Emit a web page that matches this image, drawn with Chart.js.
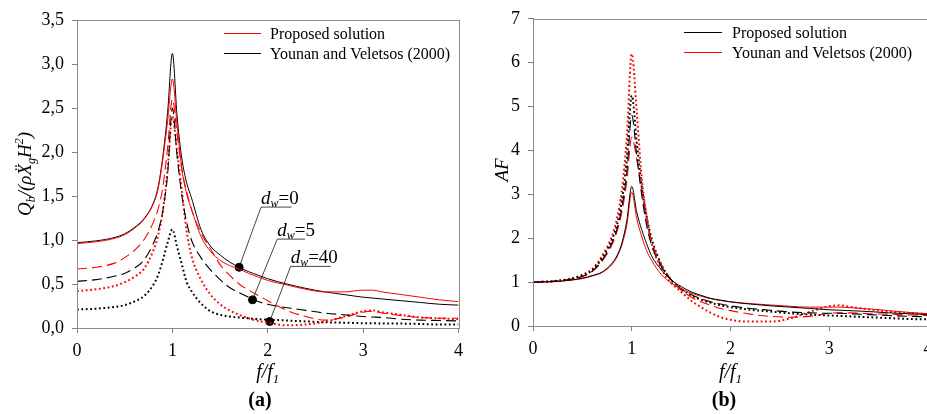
<!DOCTYPE html>
<html>
<head>
<meta charset="utf-8">
<script src="https://cdn.jsdelivr.net/npm/chart.js@4"></script>
<style>
  html, body { margin: 0; padding: 0; background: #fff; overflow: hidden; width: 927px; height: 414px; }
  canvas { position: absolute; top: 0; }
</style>
</head>
<body>
<canvas id="chartA" width="470" height="414" style="left:0"></canvas>
<canvas id="chartB" width="480" height="414" style="left:460px"></canvas>
<script>
// frequency ratio f/f1 (shared grid of both panels)
const freq = [0, 0.2, 0.4, 0.5, 0.6, 0.7, 0.8, 0.85, 0.9, 0.95, 1.0, 1.05, 1.1, 1.15, 1.2, 1.3, 1.4, 1.5, 1.6, 1.7,
              1.8, 1.9, 2.0, 2.2, 2.4, 2.6, 2.8, 3.0, 3.1, 3.2, 3.4, 3.6, 3.8, 4.0];

// (a) base shear Qb/(rho Xg H^2)
const qbProposedDw0 = [0.96, 0.98, 1.02, 1.06, 1.13, 1.23, 1.41, 1.58, 1.92, 2.35, 2.83, 2.3, 1.8, 1.52, 1.35, 1.04, 0.87, 0.77, 0.71, 0.67,
                       0.62, 0.58, 0.54, 0.49, 0.44, 0.41, 0.41, 0.43, 0.43, 0.41, 0.38, 0.35, 0.32, 0.3];
const qbYounanDw0   = [0.97, 0.99, 1.03, 1.07, 1.14, 1.24, 1.42, 1.6, 1.95, 2.45, 3.12, 2.4, 1.92, 1.65, 1.48, 1.12, 0.93, 0.83, 0.75, 0.69,
                       0.64, 0.6, 0.56, 0.5, 0.45, 0.41, 0.38, 0.35, 0.34, 0.33, 0.31, 0.29, 0.27, 0.26];
const qbProposedDw5 = [0.67, 0.69, 0.74, 0.8, 0.88, 1.0, 1.2, 1.35, 1.6, 2.05, 2.6, 2.2, 1.8, 1.55, 1.35, 1.08, 0.9, 0.72, 0.6, 0.5,
                       0.43, 0.37, 0.31, 0.2, 0.13, 0.09, 0.12, 0.18, 0.19, 0.17, 0.14, 0.12, 0.11, 0.11];
const qbYounanDw5   = [0.53, 0.55, 0.59, 0.62, 0.68, 0.77, 0.96, 1.1, 1.33, 1.75, 2.5, 1.95, 1.5, 1.2, 1.0, 0.8, 0.66, 0.55, 0.46, 0.4,
                       0.35, 0.3, 0.27, 0.23, 0.2, 0.17, 0.15, 0.13, 0.125, 0.12, 0.1, 0.09, 0.085, 0.08];
const qbProposedDw40 = [0.42, 0.44, 0.48, 0.52, 0.58, 0.67, 0.88, 1.05, 1.33, 1.8, 2.4, 2.0, 1.55, 1.1, 0.82, 0.55, 0.38, 0.27, 0.2, 0.15,
                        0.11, 0.08, 0.06, 0.03, 0.04, 0.07, 0.13, 0.19, 0.2, 0.18, 0.15, 0.12, 0.11, 0.1];
const qbYounanDw40   = [0.21, 0.22, 0.24, 0.26, 0.3, 0.36, 0.49, 0.6, 0.77, 0.97, 1.12, 0.92, 0.72, 0.52, 0.42, 0.28, 0.19, 0.15, 0.13, 0.12,
                        0.11, 0.1, 0.095, 0.085, 0.075, 0.065, 0.06, 0.055, 0.055, 0.05, 0.05, 0.045, 0.04, 0.04];

// (b) amplification factor AF
const afProposedDw0 = [1.0, 1.01, 1.05, 1.09, 1.15, 1.23, 1.43, 1.6, 1.89, 2.4, 3.18, 2.6, 2.2, 1.88, 1.6, 1.28, 1.05, 0.9, 0.78, 0.7,
                       0.63, 0.59, 0.55, 0.5, 0.46, 0.43, 0.4, 0.37, 0.36, 0.35, 0.33, 0.3, 0.28, 0.26];
const afYounanDw0   = [1.0, 1.01, 1.05, 1.08, 1.14, 1.22, 1.4, 1.57, 1.85, 2.3, 3.05, 2.45, 2.05, 1.72, 1.5, 1.17, 0.98, 0.85, 0.75, 0.68,
                       0.62, 0.58, 0.55, 0.51, 0.48, 0.45, 0.43, 0.43, 0.43, 0.42, 0.39, 0.35, 0.31, 0.28];
const afProposedDw5 = [1.0, 1.02, 1.07, 1.13, 1.25, 1.5, 1.9, 2.2, 2.7, 3.5, 4.8, 3.9, 3.0, 2.3, 1.85, 1.35, 1.05, 0.85, 0.72, 0.62,
                       0.55, 0.5, 0.46, 0.4, 0.36, 0.32, 0.3, 0.29, 0.29, 0.28, 0.26, 0.24, 0.22, 0.21];
const afYounanDw5   = [1.0, 1.02, 1.07, 1.13, 1.24, 1.48, 1.85, 2.15, 2.6, 3.3, 4.3, 3.8, 3.1, 2.45, 1.95, 1.4, 1.05, 0.82, 0.66, 0.55,
                       0.47, 0.4, 0.35, 0.27, 0.22, 0.2, 0.22, 0.29, 0.3, 0.3, 0.28, 0.27, 0.25, 0.24];
const afProposedDw40 = [1.0, 1.02, 1.08, 1.15, 1.27, 1.55, 1.97, 2.3, 2.85, 3.8, 5.25, 4.2, 3.2, 2.5, 2.0, 1.4, 1.05, 0.85, 0.7, 0.6,
                        0.53, 0.47, 0.43, 0.37, 0.33, 0.29, 0.26, 0.24, 0.23, 0.22, 0.2, 0.18, 0.16, 0.15];
const afYounanDw40   = [1.0, 1.02, 1.09, 1.17, 1.3, 1.6, 2.05, 2.45, 3.1, 4.3, 6.2, 4.9, 3.4, 2.5, 1.9, 1.3, 0.98, 0.78, 0.58, 0.43,
                        0.3, 0.2, 0.14, 0.1, 0.1, 0.17, 0.32, 0.45, 0.47, 0.44, 0.38, 0.33, 0.3, 0.27];

// d_w callouts in panel (a): marker on curve, start and end of the label underline
const dwLabels = ['0', '5', '40'];
const dwDotF = [1.70, 1.84, 2.02];
const dwDotV = [0.69, 0.32, 0.074];
const dwTagF = [1.93, 2.10, 2.24];
const dwTagEndF = [2.25, 2.39, 2.66];
const dwTagV = [1.374, 1.01, 0.70];

const SERIF = '"Liberation Serif", "Times New Roman", serif';
const RED = '#ff0000';
const BLACK = '#000000';

function series(label, values, color, style) {
  const ds = {
    label: label,
    data: values.map((v, i) => ({ x: freq[i], y: v })),
    borderColor: color,
    borderWidth: 1,
    pointRadius: 0,
    fill: false,
    cubicInterpolationMode: 'monotone'
  };
  if (style === 'dash') { ds.borderDash = [10, 5]; ds.borderWidth = 1.1; }
  if (style === 'dot') { ds.borderDash = [1.8, 2.6]; ds.borderWidth = 2; }
  return ds;
}

function richWidth(ctx, parts) {
  let w = 0;
  parts.forEach(p => { ctx.font = p.font; w += ctx.measureText(p.t).width; });
  return w;
}
function drawRich(ctx, x, y, parts) {
  let cx = x;
  parts.forEach(p => {
    ctx.font = p.font;
    ctx.fillText(p.t, cx, y + (p.dy || 0));
    cx += ctx.measureText(p.t).width;
  });
}

const decorPlugin = {
  id: 'decor',
  afterDraw(chart, args, o) {
    const ctx = chart.ctx;
    const a = chart.chartArea;
    ctx.save();
    // plot frame
    ctx.strokeStyle = '#8c8c8c';
    ctx.lineWidth = 1;
    ctx.strokeRect(Math.round(a.left) + 0.5, Math.round(a.top) + 0.5, Math.round(a.right - a.left), Math.round(a.bottom - a.top));
    ctx.fillStyle = '#000';
    ctx.textBaseline = 'alphabetic';
    ctx.textAlign = 'left';

    // legend
    o.legend.forEach((item, i) => {
      const y = o.legendY + i * 20 + 0.5;
      ctx.strokeStyle = item.color;
      ctx.lineWidth = 1;
      ctx.beginPath();
      ctx.moveTo(o.legendX0, y);
      ctx.lineTo(o.legendX1, y);
      ctx.stroke();
      ctx.font = '16px ' + SERIF;
      ctx.textBaseline = 'middle';
      ctx.fillText(item.text, o.legendTextX, y + 1);
    });
    ctx.textBaseline = 'alphabetic';

    // x title f/f1
    const it20 = 'italic 20px ' + SERIF;
    const it13 = 'italic 13px ' + SERIF;
    const xt = [{ t: 'f/f', font: it20 }, { t: '1', font: it13, dy: 5 }];
    const cx = (a.left + a.right) / 2;
    drawRich(ctx, cx - richWidth(ctx, xt) / 2, 378, xt);

    // panel tag
    ctx.font = 'bold 20px ' + SERIF;
    ctx.textAlign = 'center';
    ctx.fillText(o.tag, o.tagX, 406);
    ctx.textAlign = 'left';

    // y title (rotated)
    ctx.translate(o.yTitleX, o.yTitleY);
    ctx.rotate(-Math.PI / 2);
    drawRich(ctx, -richWidth(ctx, o.yTitle) / 2, 0, o.yTitle);
    ctx.restore();

    // d_w labels
    if (o.dw) {
      const xs = chart.scales.x, ys = chart.scales.y;
      ctx.save();
      ctx.fillStyle = '#000';
      dwLabels.forEach((lab, i) => {
        const px = xs.getPixelForValue(dwTagF[i]);
        const py = ys.getPixelForValue(dwTagV[i]);
        drawRich(ctx, px, py - 3, [
          { t: 'd', font: 'italic 19px ' + SERIF },
          { t: 'w', font: 'italic 12px ' + SERIF, dy: 3 },
          { t: '=' + lab, font: '19px ' + SERIF }
        ]);
      });
      ctx.restore();
    }
  }
};

function axes(yMax, yStep, yWidth, xHeight, fmt) {
  const tickFont = { family: SERIF, size: 18 };
  return {
    x: {
      type: 'linear', min: 0, max: 4,
      ticks: { stepSize: 1, color: '#000', font: tickFont, padding: 7, maxRotation: 0, autoSkip: false },
      grid: { drawOnChartArea: false, drawTicks: true, tickLength: 5, color: '#808080' },
      border: { color: '#808080' },
      afterFit(s) { s.height = xHeight; }
    },
    y: {
      min: 0, max: yMax,
      ticks: { stepSize: yStep, color: '#000', font: tickFont, padding: 8, callback: fmt },
      grid: { drawOnChartArea: false, drawTicks: true, tickLength: 5, color: '#808080' },
      border: { color: '#808080' },
      afterFit(s) { s.width = yWidth; }
    }
  };
}

const calloutSets = dwLabels.map((lab, i) => ({
  label: 'dw=' + lab,
  data: [{ x: dwDotF[i], y: dwDotV[i] }, { x: dwTagF[i], y: dwTagV[i] }, { x: dwTagEndF[i], y: dwTagV[i] }],
  borderColor: '#444',
  borderWidth: 1,
  pointRadius: [4, 0, 0],
  pointBackgroundColor: '#000',
  pointBorderColor: '#000',
  tension: 0
}));

const it19 = 'italic 19px ' + SERIF;
const it12 = 'italic 12px ' + SERIF;

new Chart(document.getElementById('chartA'), {
  type: 'line',
  data: {
    datasets: [
      series('Proposed solution dw=0', qbProposedDw0, RED, 'solid'),
      series('Younan and Veletsos (2000) dw=0', qbYounanDw0, BLACK, 'solid'),
      series('Proposed solution dw=5', qbProposedDw5, RED, 'dash'),
      series('Younan and Veletsos (2000) dw=5', qbYounanDw5, BLACK, 'dash'),
      series('Proposed solution dw=40', qbProposedDw40, RED, 'dot'),
      series('Younan and Veletsos (2000) dw=40', qbYounanDw40, BLACK, 'dot')
    ].concat(calloutSets)
  },
  options: {
    responsive: false,
    animation: false,
    devicePixelRatio: 1,
    layout: { padding: { top: 20, right: 8, left: 0, bottom: 0 } },
    scales: axes(3.5, 0.5, 77, 86, v => v.toFixed(1).replace('.', ',')),
    plugins: {
      legend: { display: false },
      tooltip: { enabled: false },
      decor: {
        legend: [{ text: 'Proposed solution', color: RED }, { text: 'Younan and Veletsos (2000)', color: BLACK }],
        legendY: 33, legendX0: 224, legendX1: 261, legendTextX: 270,
        tag: '(a)', tagX: 260,
        yTitleX: 31, yTitleY: 174,
        yTitle: [
          { t: 'Q', font: it19 }, { t: 'b', font: it12, dy: 4 }, { t: '/(ρ', font: it19 },
          { t: 'Ẍ', font: it19 }, { t: 'g', font: it12, dy: 4 }, { t: 'H', font: it19 },
          { t: '2', font: it12, dy: -8 }, { t: ')', font: it19 }
        ],
        dw: true
      }
    }
  },
  plugins: [decorPlugin]
});

new Chart(document.getElementById('chartB'), {
  type: 'line',
  data: {
    datasets: [
      series('Proposed solution dw=0', afProposedDw0, BLACK, 'solid'),
      series('Younan and Veletsos (2000) dw=0', afYounanDw0, RED, 'solid'),
      series('Proposed solution dw=5', afProposedDw5, BLACK, 'dash'),
      series('Younan and Veletsos (2000) dw=5', afYounanDw5, RED, 'dash'),
      series('Proposed solution dw=40', afProposedDw40, BLACK, 'dot'),
      series('Younan and Veletsos (2000) dw=40', afYounanDw40, RED, 'dot')
    ]
  },
  options: {
    responsive: false,
    animation: false,
    devicePixelRatio: 1,
    layout: { padding: { top: 18, right: 12, left: 0, bottom: 0 } },
    scales: axes(7, 1, 73, 88, v => String(v)),
    plugins: {
      legend: { display: false },
      tooltip: { enabled: false },
      decor: {
        legend: [{ text: 'Proposed solution', color: BLACK }, { text: 'Younan and Veletsos (2000)', color: RED }],
        legendY: 32, legendX0: 224, legendX1: 262, legendTextX: 272,
        tag: '(b)', tagX: 264,
        yTitleX: 48, yTitleY: 170,
        yTitle: [{ t: 'AF', font: it19 }],
        dw: false
      }
    }
  },
  plugins: [decorPlugin]
});
</script>
</body>
</html>
